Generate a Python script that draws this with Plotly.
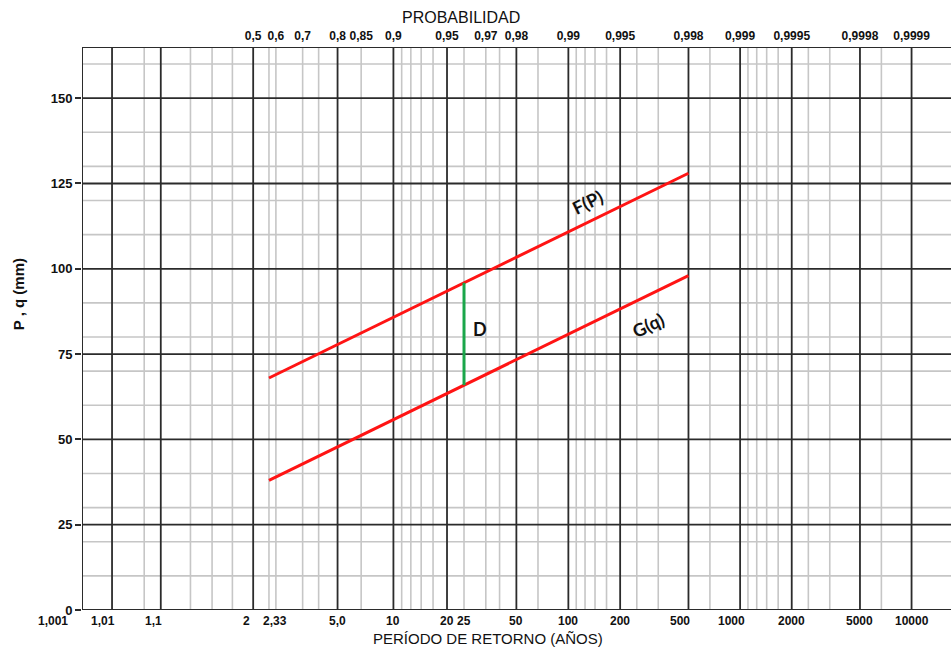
import numpy as np
import plotly.graph_objects as go

# --- data -------------------------------------------------------------
# Return periods (years) with heavy grid lines
T_major = [1.01, 1.1, 2, 5, 10, 20, 50, 100, 200, 500, 1000, 2000, 5000, 10000]
# Non-exceedance probabilities with light grid lines
P_minor = [0.05, 0.2, 0.3, 0.4, 0.6, 0.7, 0.75, 0.85, 0.91, 0.92, 0.93, 0.94,
           0.96, 0.97, 0.975, 0.985, 0.991, 0.992, 0.993, 0.994, 0.996, 0.997,
           0.9985, 0.9991, 0.9992, 0.9993, 0.9994, 0.9996, 0.9997, 0.99985]
T_minor = [2.33]

# Bottom axis labels (return period)
T_ticks = [1.001, 1.01, 1.1, 2, 2.33, 5, 10, 20, 25, 50, 100, 200, 500, 1000, 2000, 5000, 10000]
T_text = ["1,001", "1,01", "1,1", "2", "2,33", "5,0", "10", "20", "25", "50",
          "100", "200", "500", "1000", "2000", "5000", "10000"]
# Top axis labels (probability)
P_ticks = [0.5, 0.6, 0.7, 0.8, 0.85, 0.9, 0.95, 0.97, 0.98, 0.99, 0.995,
           0.998, 0.999, 0.9995, 0.9998, 0.9999]
P_text = ["0,5", "0,6", "0,7", "0,8", "0,85", "0,9", "0,95", "0,97", "0,98",
          "0,99", "0,995", "0,998", "0,999", "0,9995", "0,9998", "0,9999"]

# Value axis (mm)
Y_major = [0, 25, 50, 75, 100, 125, 150]
Y_minor = [10, 20, 30, 40, 60, 70, 80, 90, 110, 120, 130, 140, 160]
Y_max = 165

# Fitted Gumbel lines
T_line = [2.33, 500]
F_vals = [68, 128]
G_vals = [38, 98]
T_D = 25


# --- Gumbel reduced variate -------------------------------------------
def u_from_P(p):
    return -np.log(-np.log(np.asarray(p, dtype=float)))


def u_from_T(t):
    return u_from_P(1.0 - 1.0 / np.asarray(t, dtype=float))


x_lo = float(u_from_T(1.001))
x_hi = 9.74

u_line = u_from_T(T_line)
u_D = float(u_from_T(T_D))
D_top = float(np.interp(u_D, u_line, F_vals))
D_bot = float(np.interp(u_D, u_line, G_vals))

fig = go.Figure()

GREY = "#c6c6c6"
DARK = "#2b2b2b"

shapes = []
# light vertical lines
for u in list(u_from_P(P_minor)) + list(u_from_T(T_minor)):
    shapes.append(dict(type="line", xref="x", yref="y", x0=u, x1=u, y0=0, y1=Y_max,
                       line=dict(color=GREY, width=1.6), layer="below"))
# light horizontal lines
for y in Y_minor:
    shapes.append(dict(type="line", xref="x", yref="y", x0=x_lo, x1=x_hi, y0=y, y1=y,
                       line=dict(color=GREY, width=1.6), layer="below"))
# heavy vertical lines
for u in u_from_T(T_major):
    shapes.append(dict(type="line", xref="x", yref="y", x0=u, x1=u, y0=0, y1=Y_max,
                       line=dict(color=DARK, width=1.8), layer="below"))
# heavy horizontal lines
for y in Y_major[1:]:
    shapes.append(dict(type="line", xref="x", yref="y", x0=x_lo, x1=x_hi, y0=y, y1=y,
                       line=dict(color=DARK, width=1.8), layer="below"))
# frame: left, bottom, top
shapes.append(dict(type="line", xref="x", yref="y", x0=x_lo, x1=x_lo, y0=0, y1=Y_max,
                   line=dict(color=DARK, width=2)))
shapes.append(dict(type="line", xref="x", yref="y", x0=x_lo, x1=x_hi, y0=0, y1=0,
                   line=dict(color=DARK, width=2.2)))
shapes.append(dict(type="line", xref="x", yref="y", x0=x_lo, x1=x_hi, y0=Y_max, y1=Y_max,
                   line=dict(color=DARK, width=2)))

# F(P) and G(q)
fig.add_trace(go.Scatter(x=u_line, y=F_vals, mode="lines",
                         line=dict(color="#ff1414", width=3), showlegend=False,
                         hoverinfo="skip"))
fig.add_trace(go.Scatter(x=u_line, y=G_vals, mode="lines",
                         line=dict(color="#ff1414", width=3), showlegend=False,
                         hoverinfo="skip"))
# D segment between both curves
fig.add_trace(go.Scatter(x=[u_D, u_D], y=[D_bot, D_top], mode="lines",
                         line=dict(color="#1aa64a", width=3), showlegend=False,
                         hoverinfo="skip"))
# carrier for the top probability axis
fig.add_trace(go.Scatter(x=[x_lo, x_hi], y=[0, 0], xaxis="x2", mode="markers",
                         marker=dict(opacity=0), showlegend=False, hoverinfo="skip"))

tickfont = dict(family="Liberation Sans, Arial", size=12, color="#111", weight="bold")

fig.update_layout(
    width=951, height=649,
    margin=dict(l=82, r=0, t=47, b=39),
    paper_bgcolor="white", plot_bgcolor="white",
    shapes=shapes,
    xaxis=dict(range=[x_lo, x_hi], showgrid=False, zeroline=False, showline=False,
               ticks="", showticklabels=False),
    xaxis2=dict(range=[x_lo, x_hi], overlaying="x", side="top", tickmode="array",
                tickvals=list(u_from_P(P_ticks)), ticktext=P_text, showgrid=False,
                zeroline=False, showline=False, ticks="", tickangle=0,
                tickfont=tickfont, ticklabelstandoff=4),
    yaxis=dict(range=[0, Y_max], tickmode="array", tickvals=Y_major,
               showgrid=False, zeroline=False, showline=False,
               ticks="outside", ticklen=6, tickwidth=1.5, tickcolor=DARK,
               tickfont=dict(family="Liberation Sans, Arial", size=13, color="#111",
                             weight="bold")),
)

# Return-period labels under the axis; a few crowded ones are nudged sideways
label_nudge = {"1,001": -29, "1,01": -9, "1,1": -7, "2": -7, "2,33": 6,
               "500": -8, "1000": -9}
for t, txt in zip(u_from_T(T_ticks), T_text):
    fig.add_annotation(text=txt, x=float(t), xref="x", y=0, yref="paper",
                       xanchor="center", yanchor="top", yshift=-3, borderpad=0,
                       xshift=label_nudge.get(txt, 0), showarrow=False,
                       font=tickfont)

ann_font = dict(family="Liberation Sans, Arial", size=16, color="#111")
curve_font = dict(family="Lato, Open Sans", size=18, color="#111", weight="bold")
fig.add_annotation(text="PROBABILIDAD", xref="paper", yref="paper", x=0.436, y=1.053,
                   xanchor="center", yanchor="middle", showarrow=False, font=ann_font)
fig.add_annotation(text="PERÍODO DE RETORNO (AÑOS)", xref="paper", yref="paper",
                   x=0.467, y=-0.0506, xanchor="center", yanchor="middle", borderpad=0,
                   showarrow=False, font=dict(family="Liberation Sans, Arial", size=15,
                                              color="#111"))
fig.add_annotation(text="P , q (mm)", xref="paper", yref="paper", x=-0.0736, y=0.561,
                   xanchor="center", yanchor="middle", textangle=-90, showarrow=False,
                   font=dict(family="Liberation Sans, Arial", size=15, color="#111",
                             weight="bold"))
fig.add_annotation(text="F(P)", x=4.86, y=119.5, textangle=-26, showarrow=False,
                   font=curve_font)
fig.add_annotation(text="G(q)", x=5.675, y=83.4, textangle=-26, showarrow=False,
                   font=curve_font)
fig.add_annotation(text="D", x=3.415, y=82.3, showarrow=False, font=curve_font)

fig.write_html("out.html")
